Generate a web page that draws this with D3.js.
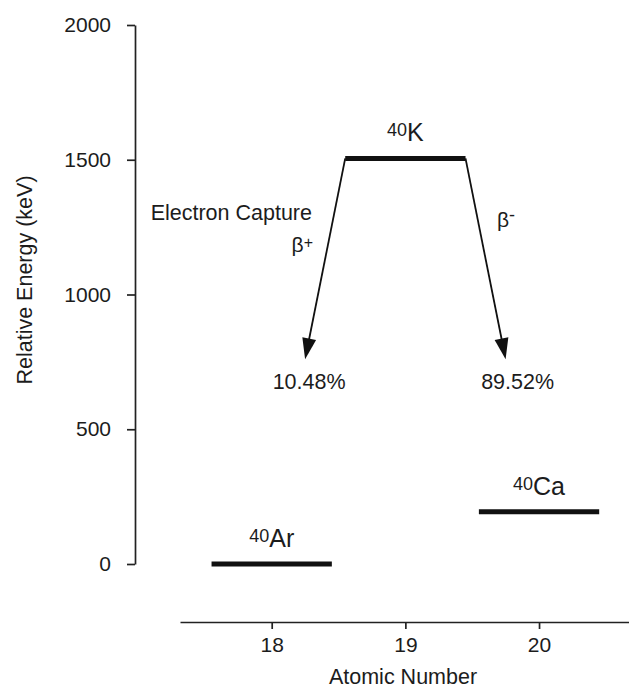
<!DOCTYPE html>
<head>
    <meta charset="utf-8">
    <style>
        body { margin: 0; background: #fff; }
        svg text { font-family: "Liberation Sans", Arial, Helvetica, sans-serif; fill: #1c1c1c; }
        .axis path, .axis line { stroke: #222; stroke-width: 1.7px; }
        .level { stroke: #111; stroke-width: 5px; }
        .decay { stroke: #111; stroke-width: 1.8px; fill: none; }
        .head { fill: #111; }
    </style>
</head>
<svg width="629" height="689" class="decay-chart"></svg>
<script src="https://cdn.jsdelivr.net/npm/d3@7"></script>
<script>
    // energy levels of the A = 40 isobars
    const massNumbers = [40, 40, 40];
    const elements = ["Ar", "K", "Ca"];
    const atomicNumbers = [18, 19, 20];
    const levelEnergies = [0, 1505, 194];      // keV

    // decay branches out of 40K
    const decayModes = ["Electron Capture", "β"];
    const decaySigns = ["+", "-"];
    const branchLabels = ["10.48%", "89.52%"];
    const arrowEndZ = [18.25, 19.75];
    const arrowEndEnergy = [760, 760];

    const energyTicks = [0, 500, 1000, 1500, 2000];
    const atomicTicks = [18, 19, 20];

    var svg = d3.select(".decay-chart");

    var x = d3.scaleLinear().domain([17.314, 20.673]).range([180, 629]),
        y = d3.scaleLinear().domain([0, 2000]).range([564, 25]);

    var halfWidth = 0.45;

    // axes
    svg.append("g")
        .attr("class", "axis")
        .attr("transform", "translate(135,0)")
        .call(d3.axisLeft(y).tickValues(energyTicks).tickFormat(d3.format("d"))
            .tickSize(8).tickSizeOuter(0).tickPadding(16))
        .attr("font-size", 21);

    svg.append("g")
        .attr("class", "axis")
        .attr("transform", "translate(0,622)")
        .call(d3.axisBottom(x).tickValues(atomicTicks).tickFormat(d3.format("d"))
            .tickSize(7).tickSizeOuter(0).tickPadding(8))
        .attr("font-size", 21);

    svg.append("text")
        .attr("x", 403).attr("y", 684)
        .attr("text-anchor", "middle")
        .attr("font-size", 21.5)
        .text("Atomic Number");

    svg.append("text")
        .attr("transform", "translate(32,280) rotate(-90)")
        .attr("text-anchor", "middle")
        .attr("font-size", 21.5)
        .text("Relative Energy (keV)");

    // levels
    var levels = elements.map(function(el, i) {
        return {el: el, a: massNumbers[i], z: atomicNumbers[i], e: levelEnergies[i]};
    });

    svg.selectAll(".level")
        .data(levels)
        .enter().append("line")
        .attr("class", "level")
        .attr("x1", function(d) { return x(d.z - halfWidth); })
        .attr("x2", function(d) { return x(d.z + halfWidth); })
        .attr("y1", function(d) { return y(d.e); })
        .attr("y2", function(d) { return y(d.e); });

    var lab = svg.selectAll(".nuclide")
        .data(levels)
        .enter().append("text")
        .attr("class", "nuclide")
        .attr("x", function(d) { return x(d.z); })
        .attr("y", function(d) { return y(d.e) - 17; })
        .attr("text-anchor", "middle");
    lab.append("tspan").attr("font-size", 18).attr("dy", -5).text(function(d) { return d.a; });
    lab.append("tspan").attr("font-size", 25).attr("dy", 5).text(function(d) { return d.el; });

    // decay arrows from the ends of the parent level
    var parent = levels[1];
    var decays = branchLabels.map(function(b, i) {
        return {
            x0: x(parent.z + (i === 0 ? -halfWidth : halfWidth)), y0: y(parent.e),
            x1: x(arrowEndZ[i]), y1: y(arrowEndEnergy[i]),
            label: b
        };
    });

    var headLen = 21, headHalf = 7;
    decays.forEach(function(d) {
        var dx = d.x1 - d.x0, dy = d.y1 - d.y0, len = Math.sqrt(dx * dx + dy * dy);
        var ux = dx / len, uy = dy / len;
        var bx = d.x1 - ux * headLen, by = d.y1 - uy * headLen;
        svg.append("line").attr("class", "decay")
            .attr("x1", d.x0).attr("y1", d.y0).attr("x2", bx + ux * 2).attr("y2", by + uy * 2);
        svg.append("path").attr("class", "head")
            .attr("d", "M" + d.x1 + "," + d.y1 +
                "L" + (bx - uy * headHalf) + "," + (by + ux * headHalf) +
                "L" + (bx + uy * headHalf) + "," + (by - ux * headHalf) + "Z");
    });

    var pctOffset = [4, 12];
    svg.selectAll(".pct")
        .data(decays)
        .enter().append("text")
        .attr("class", "pct")
        .attr("x", function(d, i) { return d.x1 + pctOffset[i]; })
        .attr("y", function(d) { return d.y1 + 30; })
        .attr("text-anchor", "middle")
        .attr("font-size", 21.5)
        .text(function(d) { return d.label; });

    // decay mode labels
    svg.append("text")
        .attr("x", 312).attr("y", 220)
        .attr("text-anchor", "end")
        .attr("font-size", 21.5)
        .text(decayModes[0]);

    var bp = svg.append("text")
        .attr("x", 313).attr("y", 252)
        .attr("text-anchor", "end")
        .attr("font-size", 21);
    bp.append("tspan").text(decayModes[1]);
    bp.append("tspan").attr("font-size", 16).attr("dy", -4).text(decaySigns[0]);

    var bm = svg.append("text")
        .attr("x", 497).attr("y", 227)
        .attr("font-size", 21);
    bm.append("tspan").text(decayModes[1]);
    bm.append("tspan").attr("font-size", 18).attr("dy", -6).text(decaySigns[1]);
</script>
